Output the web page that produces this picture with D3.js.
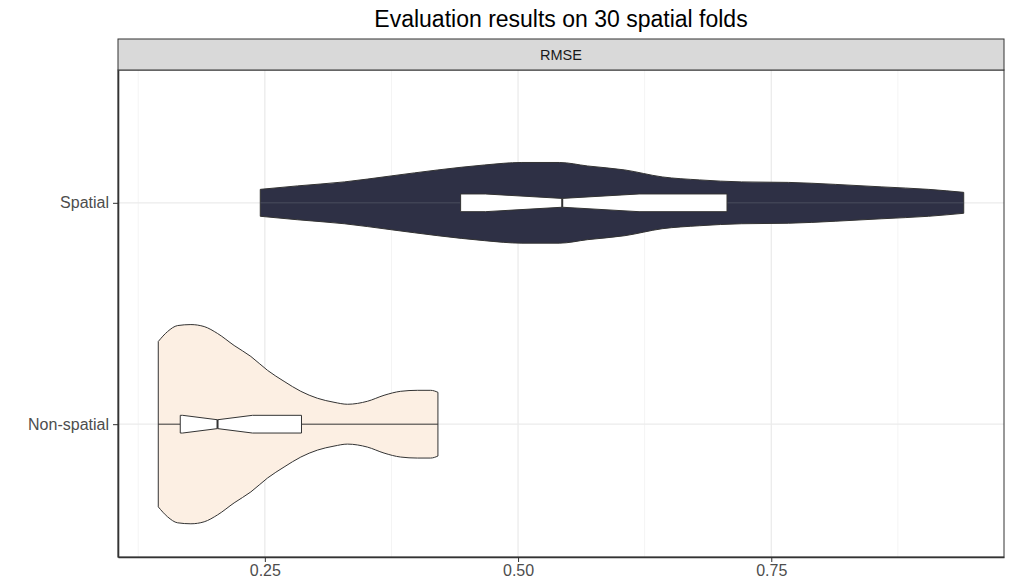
<!DOCTYPE html>
<html>
<head>
<meta charset="utf-8">
<script src="https://cdn.jsdelivr.net/npm/d3@7"></script>
<style>
    body { margin: 0; background: #fff; }
    text { font-family: "Liberation Sans", Arial, sans-serif; }
</style>
</head>
<body>
<div id="chart"></div>
<script>
// categories on the y axis (bottom to top)
const categories = ["Non-spatial", "Spatial"];

// violin outline: RMSE grid and relative half-width (1 = widest violin)
const nsGrid = [0.1448, 0.154, 0.1639, 0.177, 0.1901, 0.2034, 0.2197, 0.2362, 0.2527, 0.269,
    0.2855, 0.302, 0.3183, 0.3316, 0.3513, 0.3677, 0.3841, 0.4006, 0.4137, 0.4209];
const nsDensity = [0.83, 0.93, 0.99, 1.0, 0.98, 0.91, 0.79, 0.68, 0.54, 0.43,
    0.33, 0.26, 0.22, 0.2, 0.23, 0.29, 0.33, 0.34, 0.34, 0.32];

const spGrid = [0.2455, 0.2823, 0.3285, 0.3747, 0.4208, 0.467, 0.5038, 0.5407, 0.5685,
    0.6054, 0.6423, 0.6792, 0.7207, 0.7669, 0.8131, 0.8592, 0.9053, 0.94];
const spDensity = [0.135, 0.17, 0.21, 0.27, 0.33, 0.38, 0.405, 0.405, 0.37,
    0.33, 0.26, 0.23, 0.21, 0.205, 0.185, 0.16, 0.135, 0.105];

// boxplot stats [min, q1, median, q3, max]
const nsBox = [0.1448, 0.1665, 0.2033, 0.2862, 0.4209];
const spBox = [0.2455, 0.4433, 0.5436, 0.7063, 0.94];
const nFolds = 30;

const xTicks = [0.25, 0.5, 0.75];
const xMinorTicks = [0.125, 0.375, 0.625, 0.875];

const groups = [
    { name: "Non-spatial", pos: 1, grid: nsGrid, dens: nsDensity, box: nsBox, fill: "#fcefe3", whisker: "#333" },
    { name: "Spatial", pos: 2, grid: spGrid, dens: spDensity, box: spBox, fill: "#2e3045", whisker: "#4a4c5e" },
];

const width = 1012;
const height = 580;
const marginTop = 70;
const marginRight = 8;
const marginBottom = 23;
const marginLeft = 118;
const stripHeight = 31;

const svg = d3.select("#chart")
    .append("svg")
    .attr("width", width)
    .attr("height", height);

// x scale with ggplot style 5% expansion
const lo = d3.min(groups, (g) => g.grid[0]);
const hi = d3.max(groups, (g) => g.grid[g.grid.length - 1]);
const pad = (hi - lo) * 0.05;
const x = d3.scaleLinear()
    .domain([lo - pad, hi + pad])
    .range([marginLeft, width - marginRight]);

// discrete y positions with 0.6 expansion
const y = d3.scaleLinear()
    .domain([0.4, categories.length + 0.6])
    .range([height - marginBottom, marginTop]);

const unit = y(0) - y(1);

// grid
svg.append("g")
    .selectAll("line")
    .data(xMinorTicks)
    .join("line")
    .attr("x1", (d) => x(d)).attr("x2", (d) => x(d))
    .attr("y1", marginTop).attr("y2", height - marginBottom)
    .attr("stroke", "#f4f4f4")
    .attr("stroke-width", 1);

svg.append("g")
    .selectAll("line")
    .data(xTicks)
    .join("line")
    .attr("x1", (d) => x(d)).attr("x2", (d) => x(d))
    .attr("y1", marginTop).attr("y2", height - marginBottom)
    .attr("stroke", "#ebebeb")
    .attr("stroke-width", 1.3);

svg.append("g")
    .selectAll("line")
    .data(groups)
    .join("line")
    .attr("x1", marginLeft).attr("x2", width - marginRight)
    .attr("y1", (d) => y(d.pos)).attr("y2", (d) => y(d.pos))
    .attr("stroke", "#ebebeb")
    .attr("stroke-width", 1.3);

// violins
const g = svg.append("g")
    .selectAll("g")
    .data(groups)
    .join("g");

g.append("path")
    .attr("d", (grp) => d3.area()
        .x((d, i) => x(grp.grid[i]))
        .y0((d) => y(grp.pos) + d * 0.45 * unit)
        .y1((d) => y(grp.pos) - d * 0.45 * unit)
        .curve(d3.curveMonotoneX)(grp.dens))
    .attr("fill", (d) => d.fill)
    .attr("stroke", "#333")
    .attr("stroke-width", 1);

// whiskers
g.append("line")
    .attr("x1", (d) => x(d.box[0])).attr("x2", (d) => x(d.box[1]))
    .attr("y1", (d) => y(d.pos)).attr("y2", (d) => y(d.pos))
    .attr("stroke", (d) => d.whisker);
g.append("line")
    .attr("x1", (d) => x(d.box[3])).attr("x2", (d) => x(d.box[4]))
    .attr("y1", (d) => y(d.pos)).attr("y2", (d) => y(d.pos))
    .attr("stroke", (d) => d.whisker);

// notched boxes
const boxHalf = 0.04;
function boxPoints(grp) {
    const [, q1, med, q3] = grp.box;
    const notch = 1.58 * (q3 - q1) / Math.sqrt(nFolds);
    const c = y(grp.pos);
    const h = boxHalf * unit;
    const n1 = Math.max(q1, med - notch);
    const n2 = Math.min(q3, med + notch);
    return [
        [x(q1), c - h], [x(n1), c - h], [x(med), c - h / 2], [x(n2), c - h], [x(q3), c - h],
        [x(q3), c + h], [x(n2), c + h], [x(med), c + h / 2], [x(n1), c + h], [x(q1), c + h],
    ];
}

g.append("path")
    .attr("d", (d) => d3.line()(boxPoints(d)) + "Z")
    .attr("fill", "#fff")
    .attr("stroke", "#333")
    .attr("stroke-width", 1);

g.append("line")
    .attr("x1", (d) => x(d.box[2])).attr("x2", (d) => x(d.box[2]))
    .attr("y1", (d) => y(d.pos) - boxHalf * unit / 2)
    .attr("y2", (d) => y(d.pos) + boxHalf * unit / 2)
    .attr("stroke", "#333")
    .attr("stroke-width", 2);

// panel border
svg.append("rect")
    .attr("x", marginLeft).attr("y", marginTop)
    .attr("width", width - marginRight - marginLeft)
    .attr("height", height - marginBottom - marginTop)
    .attr("fill", "none")
    .attr("stroke", "#333")
    .attr("stroke-width", 1);

// axes
function styleAxis(a) {
    a.select(".domain").attr("stroke", "#333").attr("stroke-width", 1.6);
    a.selectAll(".tick line").attr("stroke", "#333");
    a.selectAll(".tick text")
        .attr("fill", "#4d4d4d")
        .attr("font-size", 16)
        .attr("font-family", "Liberation Sans, Arial, sans-serif");
}

svg.append("g")
    .attr("transform", `translate(0,${height - marginBottom})`)
    .call(d3.axisBottom(x)
        .tickValues(xTicks)
        .tickFormat(d3.format(".2f"))
        .tickSize(5)
        .tickSizeOuter(0)
        .tickPadding(3))
    .call(styleAxis);

svg.append("g")
    .attr("transform", `translate(${marginLeft},0)`)
    .call(d3.axisLeft(y)
        .tickValues(groups.map((d) => d.pos))
        .tickFormat((d) => categories[d - 1])
        .tickSize(5)
        .tickSizeOuter(0)
        .tickPadding(4))
    .call(styleAxis);

// facet strip
svg.append("rect")
    .attr("x", marginLeft).attr("y", marginTop - stripHeight)
    .attr("width", width - marginRight - marginLeft)
    .attr("height", stripHeight)
    .attr("fill", "#d9d9d9")
    .attr("stroke", "#333")
    .attr("stroke-width", 1);

svg.append("text")
    .attr("x", (marginLeft + width - marginRight) / 2)
    .attr("y", marginTop - stripHeight / 2)
    .attr("dy", "0.35em")
    .attr("text-anchor", "middle")
    .attr("font-size", 14.5)
    .attr("fill", "#1a1a1a")
    .text("RMSE");

// title
svg.append("text")
    .attr("x", (marginLeft + width - marginRight) / 2)
    .attr("y", 27)
    .attr("text-anchor", "middle")
    .attr("font-size", 23)
    .attr("fill", "#000")
    .text("Evaluation results on 30 spatial folds");
</script>
</body>
</html>
